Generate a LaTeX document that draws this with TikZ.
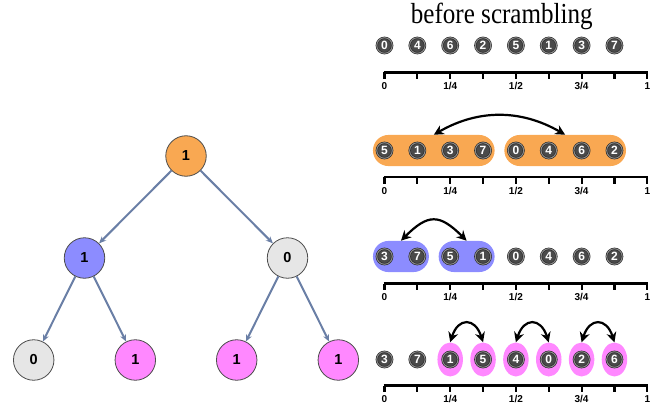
\documentclass[tikz,border=0pt]{standalone}
\usepackage{fontspec}
\setsansfont{Liberation Sans}
\newfontfamily\titlefont{Liberation Serif}
\usepackage{graphicx}
\usetikzlibrary{positioning,arrows.meta,fit,backgrounds,shapes.geometric}
\definecolor{orng}{HTML}{F9A852}
\definecolor{blu}{HTML}{8C8CFF}
\definecolor{pnk}{HTML}{FF88FF}
\definecolor{gry}{HTML}{E6E6E6}
\definecolor{edgeblue}{HTML}{6A7FA6}
\definecolor{balldark}{HTML}{4A4A4A}
\begin{document}
\begin{tikzpicture}[x=1pt,y=1pt,
    tnode/.style={circle, draw=black!70, line width=0.8pt, minimum size=40.5pt, inner sep=0pt,
        font=\sffamily\bfseries\fontsize{14.5}{14.5}\selectfont},
    tedge/.style={draw=edgeblue, line width=2pt, -{Stealth[length=7pt,width=6pt]}},
    ball/.style={circle, fill=balldark, draw=black!85, double=black!45, double distance=1pt,
        line width=0.6pt, minimum size=15.5pt, inner sep=0pt, text=white,
        font=\sffamily\bfseries\fontsize{12}{12}\selectfont},
    pill/.style={rectangle, rounded corners=15.5pt, inner xsep=3.5pt, inner ysep=7.5pt},
    oval/.style={ellipse, fill=pnk, minimum width=25.5pt, minimum height=34pt, inner sep=0pt},
    axisline/.style={line width=2.1pt},
    ticklabel/.style={anchor=base, inner sep=0pt, font=\sffamily\bfseries\fontsize{10}{10}\selectfont},
    swaparrow/.style={line width=2.2pt, {Stealth[length=10pt,width=10pt]}-{Stealth[length=10pt,width=10pt]}}]
    \useasboundingbox (0,0) rectangle (661,-409);

    \node[tnode, fill=orng] (1) at (186,-156) {1};
    \node[tnode, fill=blu, on grid] (2) [below left=102pt and 101.5pt of 1] {1};
    \node[tnode, fill=gry, on grid] (3) [below right=102pt and 101.5pt of 1] {0};
    \node[tnode, fill=gry, on grid] (4) [below left=102pt and 50.8pt of 2] {0};
    \node[tnode, fill=pnk, on grid] (5) [below right=102pt and 50.8pt of 2] {1};
    \node[tnode, fill=pnk, on grid] (6) [below left=102pt and 50.8pt of 3] {1};
    \node[tnode, fill=pnk, on grid] (7) [below right=102pt and 50.8pt of 3] {1};

    \path[tedge]
    (1) edge (2)
    (1) edge (3)
    (2) edge (4)
    (2) edge (5)
    (3) edge (6)
    (3) edge (7);

    \node[anchor=base, inner sep=0pt, font=\titlefont\fontsize{29}{30}\selectfont] (title) at (501.8,-23.3)
        {\scalebox{0.865}[1]{before scrambling}};

    \foreach \n [count=\k from 0] in {0,4,6,2,5,1,3,7}
        \node[ball] (a\k) at (384.5+32.85*\k,-45.5) {\n};
    \foreach \n [count=\k from 0] in {5,1,3,7,0,4,6,2}
        \node[ball] (b\k) at (384.5+32.85*\k,-150.5) {\n};
    \foreach \n [count=\k from 0] in {3,7,5,1,0,4,6,2}
        \node[ball] (c\k) at (384.5+32.85*\k,-256.5) {\n};
    \foreach \n [count=\k from 0] in {3,7,1,5,4,0,2,6}
        \node[ball] (d\k) at (384.5+32.85*\k,-359.5) {\n};

    \foreach \y [count=\r] in {72.5,177,283.5,385.5} {
        \draw[axisline] (383.5,-\y) -- (648.3,-\y);
        \foreach \k in {0,...,8}
            \draw[axisline] (384.5+32.85*\k,-\y) -- ++(0,-6.5);
        \foreach \k/\t in {0/0,2/{1/4},4/{1/2},6/{3/4},8/1}
            \node[ticklabel] (l\r-\k) at (384.5+32.85*\k,-\y-17.3) {\t};
    }

    \begin{scope}[on background layer]
        \node[pill, fill=orng, fit=(b0)(b3)] (p1) {};
        \node[pill, fill=orng, fit=(b4)(b7)] (p2) {};
        \node[pill, fill=blu, fit=(c0)(c1)] (q1) {};
        \node[pill, fill=blu, fit=(c2)(c3)] (q2) {};
        \foreach \k in {2,...,7}
            \node[oval] (e\k) at (d\k) {};
    \end{scope}

    \draw[swaparrow] (p2.north) to[out=150,in=30] (p1.north);
    \draw[swaparrow] (q2.north) to[out=135,in=45,looseness=1.5] (q1.north);
    \draw[swaparrow] (e3.north) .. controls +(-8,25) and +(8,25) .. (e2.north);
    \draw[swaparrow] (e5.north) .. controls +(-8,25) and +(8,25) .. (e4.north);
    \draw[swaparrow] (e7.north) .. controls +(-8,25) and +(8,25) .. (e6.north);
\end{tikzpicture}
\end{document}
